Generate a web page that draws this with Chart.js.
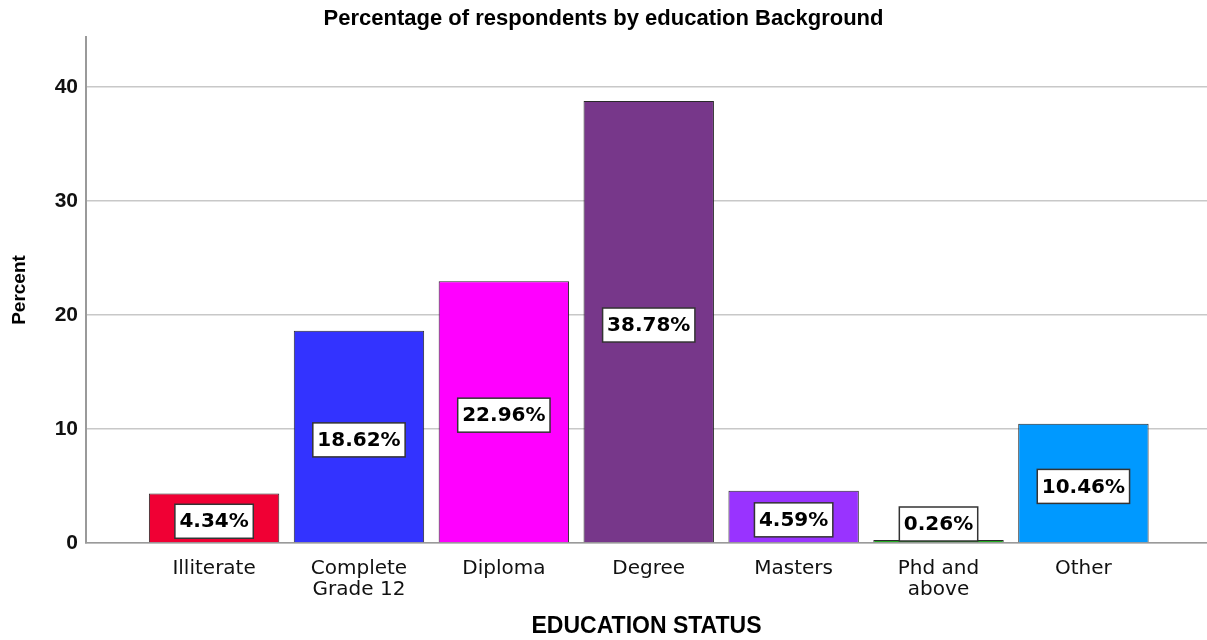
<!DOCTYPE html>
<html>
<head>
<meta charset="utf-8">
<script src="https://cdn.jsdelivr.net/npm/chart.js@4"></script>
<style>
  html, body { margin: 0; padding: 0; background: #fff; }
  #wrap { width: 1207px; height: 640px; }
</style>
</head>
<body>
<div id="wrap"><canvas id="eduChart" width="1207" height="640"></canvas></div>
<script>
// education background of respondents, in percent
const categories = ['Illiterate', ['Complete', 'Grade 12'], 'Diploma', 'Degree', 'Masters', ['Phd and', 'above'], 'Other'];
const percents = [4.34, 18.62, 22.96, 38.78, 4.59, 0.26, 10.46];
const barColors = ['#f00034', '#3333ff', '#ff00ff', '#77378a', '#9933ff', '#22aa22', '#0099ff'];
const yTicks = [0, 10, 20, 30, 40];

// white boxed value labels, placed halfway up each bar (kept above the axis for tiny bars)
const valueBoxes = {
    id: 'valueBoxes',
    afterDatasetsDraw(chart) {
        const ctx = chart.ctx;
        const yScale = chart.scales.y;
        const base = yScale.getPixelForValue(0);
        const meta = chart.getDatasetMeta(0);
        ctx.save();
        ctx.font = 'bold 20px "DejaVu Sans"';
        ctx.textAlign = 'center';
        ctx.textBaseline = 'middle';
        meta.data.forEach((bar, i) => {
            const txt = percents[i].toFixed(2) + '%';
            const w = ctx.measureText(txt).width + 9;
            const h = 34;
            let cy = yScale.getPixelForValue(percents[i] / 2) + 3;
            cy = Math.min(cy, base - h / 2 - 2);
            ctx.fillStyle = '#fff';
            ctx.fillRect(bar.x - w / 2, cy - h / 2, w, h);
            ctx.strokeStyle = '#333';
            ctx.lineWidth = 1.5;
            ctx.strokeRect(bar.x - w / 2, cy - h / 2, w, h);
            ctx.fillStyle = '#000';
            ctx.fillText(txt, bar.x, cy + 1);
        });
        ctx.restore();
    }
};

new Chart(document.getElementById('eduChart'), {
    type: 'bar',
    data: {
        datasets: [{
            data: percents.map((v, i) => ({ x: i, y: v })),
            backgroundColor: barColors,
            borderColor: '#2a2a2a',
            borderWidth: 1,
            barPercentage: 0.9,
            categoryPercentage: 1
        }]
    },
    options: {
        responsive: false,
        animation: false,
        layout: { padding: 0 },
        plugins: {
            legend: { display: false },
            tooltip: { enabled: false },
            title: {
                display: true,
                text: 'Percentage of respondents by education Background',
                color: '#000',
                font: { family: '"Liberation Sans", Arial', size: 22, weight: 'bold' },
                padding: { top: 6, bottom: 4.6 }
            }
        },
        scales: {
            x: {
                type: 'linear',
                offset: false,
                min: -0.884,
                max: 6.853,
                grid: { display: false },
                border: { display: true, color: '#9a9a9a', width: 1.5 },
                afterBuildTicks: axis => { axis.ticks = categories.map((c, i) => ({ value: i })); },
                afterFit: axis => { axis.height = 97; },
                ticks: {
                    autoSkip: false,
                    maxRotation: 0,
                    padding: 7,
                    color: '#111',
                    font: { family: '"DejaVu Sans"', size: 20, lineHeight: 1.05 },
                    callback: v => categories[v]
                },
                title: {
                    display: true,
                    text: 'EDUCATION STATUS',
                    color: '#000',
                    font: { family: '"Liberation Sans", Arial', size: 23, weight: 'bold' },
                    padding: { top: 0, bottom: 0 }
                }
            },
            y: {
                min: 0,
                max: 44.4,
                grid: { color: '#c8c8c8', lineWidth: 1.5, drawTicks: false },
                border: { display: true, color: '#9a9a9a', width: 2 },
                afterBuildTicks: axis => { axis.ticks = yTicks.map(v => ({ value: v })); },
                afterFit: axis => { axis.width = 86; },
                ticks: {
                    padding: 8,
                    color: '#111',
                    font: { family: '"Liberation Sans", Arial', size: 21, weight: 'bold' }
                },
                title: {
                    display: true,
                    text: 'Percent',
                    color: '#000',
                    font: { family: '"Liberation Sans", Arial', size: 19, weight: 'bold' },
                    padding: { top: 8, bottom: 0 }
                }
            }
        }
    },
    plugins: [valueBoxes]
});
</script>
</body>
</html>
